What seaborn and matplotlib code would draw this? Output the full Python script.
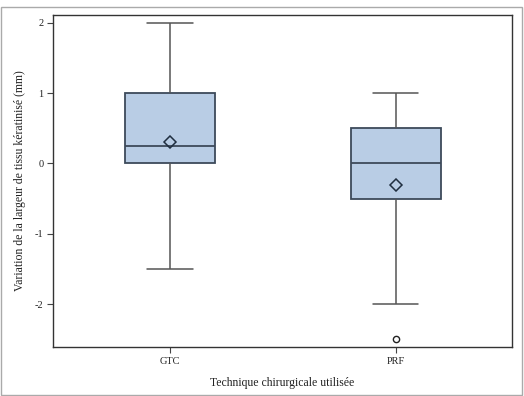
import matplotlib
matplotlib.use("Agg")
import matplotlib.pyplot as plt
import seaborn as sns
import pandas as pd
from matplotlib.patches import Rectangle

# Data (estimated observations reproducing the quartiles, whiskers, mean and outlier)
categories = ["GTC", "PRF"]
gtc_values = [-1.5, -0.5, 0, 0, 0.25, 0.45, 1, 1, 2]
prf_values = [-2.5, -2, -0.5, 0, 0, 0.1, 0.5, 0.7, 1]
y_ticks = [-2, -1, 0, 1, 2]

df = pd.DataFrame({
    "tech": [categories[0]] * len(gtc_values) + [categories[1]] * len(prf_values),
    "val": gtc_values + prf_values,
})

sns.set_theme(style="white")
plt.rcParams['font.family'] = ['Liberation Serif', 'DejaVu Serif']

fig = plt.figure(figsize=(5.24, 3.96), dpi=100)
ax = fig.add_axes([53/524, 1 - 347/396, (512-53)/524, (347-15)/396])

edge = "#3d4a5a"
wcol = "#555555"
sns.boxplot(data=df, x="tech", y="val", order=categories, ax=ax, width=0.4,
            color="#b9cde5", saturation=1, linewidth=1.2, whis=1.5,
            showmeans=True,
            boxprops=dict(facecolor="#b9cde5", edgecolor=edge, linewidth=1.3),
            medianprops=dict(color=edge, linewidth=1.3),
            whiskerprops=dict(color=wcol, linewidth=1.1),
            capprops=dict(color=wcol, linewidth=1.1),
            meanprops=dict(marker="D", markerfacecolor="none", markeredgecolor="#1f2e40",
                           markersize=6, markeredgewidth=1.1),
            flierprops=dict(marker="o", markerfacecolor="none", markeredgecolor="#222222",
                            markersize=4.5, markeredgewidth=1.0))

ax.set_xlim(-0.518, 1.515)
ax.set_ylim(-2.61, 2.11)
ax.set_yticks(y_ticks)
ax.set_yticklabels([str(t) for t in y_ticks])
ax.set_xlabel("Technique chirurgicale utilisée", fontsize=8.5, color="#222222", labelpad=8)
ax.set_ylabel("Variation de la largeur de tissu kératinisé (mm)", fontsize=8.5, color="#222222", labelpad=6)
ax.tick_params(axis="both", which="both", direction="out", length=4, width=0.8,
               color="#444444", labelsize=7.5, labelcolor="#222222", pad=3,
               bottom=True, left=True)
for s in ax.spines.values():
    s.set_color("#333333")
    s.set_linewidth(1.0)

fig.patches.append(Rectangle((1/524, 1/396), 521/524, (395-7)/396,
                             transform=fig.transFigure, fill=False,
                             edgecolor="#aaaaaa", linewidth=1.0))

fig.savefig("out.png", dpi=100)
